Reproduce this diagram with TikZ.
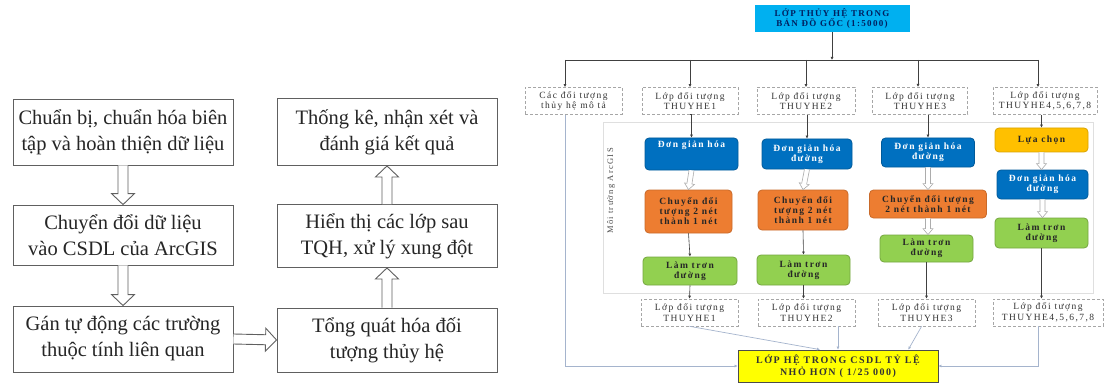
\documentclass[tikz,border=0pt]{standalone}
\usepackage{fontspec}
\setmainfont{Liberation Serif}
\newfontfamily\smf[LetterSpace=15]{Liberation Serif}
\usetikzlibrary{calc,arrows.meta}
\definecolor{cBlue}{RGB}{0,112,192}
\definecolor{cCyan}{RGB}{0,176,240}
\definecolor{cNavy}{RGB}{0,32,96}
\definecolor{cOrange}{RGB}{237,125,49}
\definecolor{cGreen}{RGB}{146,208,80}
\definecolor{cGold}{RGB}{255,192,0}
\definecolor{cYellow}{RGB}{255,255,0}
\definecolor{cFaint}{RGB}{165,180,205}
\newcommand{\blkarrow}[6]{%
  \coordinate (hb) at ($(#3)!#6!(#2)$);
  \draw[#1] ($(#2)!#4!90:(#3)$) -- ($(hb)!#4!90:(#3)$) -- ($(hb)!#5!90:(#3)$) -- (#3)
    -- ($(hb)!#5!-90:(#3)$) -- ($(hb)!#4!-90:(#3)$) -- ($(#2)!#4!-90:(#3)$);}
\tikzset{
  bigbox/.style={draw=gray!75!black, line width=0.9pt, minimum width=220pt, align=center,
    font=\fontsize{20.5}{26}\selectfont, inner sep=0pt, text=black!85},
  bighollow/.style={draw=gray!75!black, line width=0.9pt, fill=white},
  smallhollow/.style={draw=gray!65, line width=0.6pt, fill=white},
  small/.style={draw=gray!70, densely dashed, line width=0.6pt, minimum height=27pt, align=center,
    font=\smf\fontsize{9.5}{10.5}\selectfont, text=black!80, inner sep=0pt},
  proc/.style={rounded corners=4pt, align=center, font=\smf\bfseries\fontsize{9.5}{10}\selectfont,
    inner sep=0pt, line width=0.8pt},
  blu/.style={proc, fill=cBlue, draw=cBlue!80!black, text=white},
  ora/.style={proc, fill=cOrange, draw=cOrange!85!black, text=black!85},
  grn/.style={proc, fill=cGreen, draw=cGreen!80!black, text=black!85},
  ylw/.style={proc, fill=cGold, draw=cGold!85!black, text=black!85},
  link/.style={draw=black!75, line width=0.6pt, -{Latex[length=3pt,width=3pt]}},
  faint/.style={draw=cFaint, line width=0.7pt, -{Latex[length=3pt,width=3pt]}},
}
\begin{document}
\begin{tikzpicture}[x=1pt,y=-1pt]
\useasboundingbox (0,0) rectangle (1111,385);
\fill[white] (0,0) rectangle (1111,385);
% ---------- left flow ----------
\node[bigbox, minimum height=66pt] (A) at (123,132) {Chuẩn bị, chuẩn hóa biên\\tập và hoàn thiện dữ liệu};
\node[bigbox, minimum height=60pt] (B) at (123,235) {Chuyển đổi dữ liệu\\vào CSDL của ArcGIS};
\node[bigbox, minimum height=66pt] (C) at (123,339) {Gán tự động các trường\\thuộc tính liên quan};
\node[bigbox, minimum height=64pt] (D) at (387,340) {Tổng quát hóa đối\\tượng thủy hệ};
\node[bigbox, minimum height=63pt] (E) at (387,236) {Hiển thị các lớp sau\\TQH, xử lý xung đột};
\node[bigbox, minimum height=67pt] (F) at (387,132) {Thống kê, nhận xét và\\đánh giá kết quả};
\blkarrow{bighollow}{A.south}{B.north}{5pt}{11.5pt}{11pt}
\blkarrow{bighollow}{B.south}{C.north}{5pt}{11.5pt}{11pt}
\blkarrow{bighollow}{C.east}{D.west}{5pt}{11.5pt}{11pt}
\blkarrow{bighollow}{D.north}{E.south}{5pt}{11.5pt}{11pt}
\blkarrow{bighollow}{E.north}{F.south}{5pt}{11.5pt}{11pt}
% ---------- right flow ----------
\node[fill=cCyan, minimum width=155pt, minimum height=27pt, align=center, inner sep=0pt,
  font=\smf\bfseries\fontsize{9}{10.5}\selectfont, text=cNavy] (top) at (832,18.5)
  {LỚP THỦY HỆ TRONG\\BẢN ĐỒ GỐC (1:5000)};
\node[draw=gray!25, line width=0.8pt, minimum width=490pt, minimum height=171pt, inner sep=0pt] (env) at (848,207.5) {};
\node[rotate=90, font=\smf\fontsize{8.5}{9}\selectfont, text=black!70] (envlab) at (611,191) {Môi trường ArcGIS};
\node[small, minimum width=97pt] (L0) at (573.5,101) {Các đối tượng\\thủy hệ mô tả};
\node[small, minimum width=96pt] (L1) at (690,101) {Lớp đối tượng\\THUYHE1};
\node[small, minimum width=98pt] (L2) at (806,101) {Lớp đối tượng\\THUYHE2};
\node[small, minimum width=95pt] (L3) at (920,101) {Lớp đối tượng\\THUYHE3};
\node[small, minimum width=104pt] (L4) at (1045,101) {Lớp đối tượng\\THUYHE4,5,6,7,8};
\coordinate (j) at (832,60);
\coordinate (b0) at (565,60);
\coordinate (b4) at (1038,60);
\draw[link] (top.south) -- (j);
\draw[draw=black!75, line width=0.6pt] (b0) -- (b4);
\draw[link] (b0) -- (b0 |- L0.north);
\draw[link] (L1.north |- j) -- (L1.north);
\draw[link] (L2.north |- j) -- (L2.north);
\draw[link] (918,60) -- (918,87);
\draw[link] (b4) -- (b4 |- L4.north);
% columns
\node[blu, minimum width=93pt, minimum height=32pt] (c1b) at (691.5,154) {Đơn giản hóa\\[9pt]};
\node[ora, minimum width=87pt, minimum height=43pt] (c1o) at (688.5,211.5) {Chuyển đổi\\tượng 2 nét\\thành 1 nét};
\node[grn, minimum width=94pt, minimum height=28pt] (c1g) at (690,271) {Làm trơn\\đường};
\node[blu, minimum width=90pt, minimum height=30pt] (c2b) at (807,154) {Đơn giản hóa\\đường};
\node[ora, minimum width=90pt, minimum height=40pt] (c2o) at (803,210) {Chuyển đổi\\tượng 2 nét\\thành 1 nét};
\node[grn, minimum width=93pt, minimum height=30pt] (c2g) at (803.5,270) {Làm trơn\\đường};
\node[blu, minimum width=93pt, minimum height=29pt] (c3b) at (928,152.5) {Đơn giản hóa\\đường};
\node[ora, minimum width=117pt, minimum height=28pt] (c3o) at (928,204) {Chuyển đổi tượng\\2 nét thành 1 nét};
\node[grn, minimum width=93pt, minimum height=27pt] (c3g) at (926.5,248.5) {Làm trơn\\đường};
\node[ylw, minimum width=93pt, minimum height=24pt] (c4y) at (1041.5,140) {Lựa chọn};
\node[blu, minimum width=91pt, minimum height=29pt] (c4b) at (1042.5,184.5) {Đơn giản hóa\\đường};
\node[grn, minimum width=93pt, minimum height=30pt] (c4g) at (1041.5,233) {Làm trơn\\đường};
\node[small, minimum width=97pt] (B1) at (689.5,312.5) {Lớp đối tượng\\THUYHE1};
\node[small, minimum width=97pt] (B2) at (806.5,312.5) {Lớp đối tượng\\THUYHE2};
\node[small, minimum width=97pt] (B3) at (926.5,312.5) {Lớp đối tượng\\THUYHE3};
\node[small, minimum width=110pt] (B4) at (1048,312.5) {Lớp đối tượng\\THUYHE4,5,6,7,8};
\node[fill=cYellow, draw=gray!60!black, line width=0.8pt, minimum width=200pt, minimum height=32pt,
  align=center, inner sep=0pt, font=\smf\bfseries\fontsize{10}{11.5}\selectfont, text=black!80] (fin) at (838,366)
  {LỚP HỆ TRONG CSDL TỶ LỆ\\NHỎ HƠN ( 1/25 000)};
% column links
\draw[link] (L1.south) -- (L1.south -| c1b.north) -- (c1b.north);
\blkarrow{smallhollow}{c1b.south}{c1o.north}{2.5pt}{5pt}{6pt}
\draw[link] (c1o.south) -- (c1g.north);
\draw[link] (c1g.south) -- (B1.north);
\draw[link] (c2b.north |- L2.south) -- (c2b.north);
\blkarrow{smallhollow}{c2b.south}{c2o.north}{2.5pt}{5pt}{6pt}
\draw[link] (c2o.south) -- (c2g.north);
\draw[link] (c2g.south) -- (c2g.south |- B2.north);
\draw[link] (c3b.north |- L3.south) -- (c3b.north);
\blkarrow{smallhollow}{c3b.south}{c3o.north}{2.5pt}{5pt}{6pt}
\blkarrow{smallhollow}{c3o.south}{c3o.south |- c3g.north}{2.5pt}{5pt}{6pt}
\draw[link] (c3g.south) -- (c3g.south |- B3.north);
\draw[link] (c4y.north |- L4.south) -- (c4y.north);
\blkarrow{smallhollow}{c4y.south}{c4y.south |- c4b.north}{2.5pt}{5pt}{6pt}
\blkarrow{smallhollow}{c4b.south}{c4b.south |- c4g.north}{2.5pt}{5pt}{6pt}
\draw[link] (c4g.south) -- (c4g.south |- B4.north);
% links to final layer
\draw[faint] (L0.south -| b0) -- (b0 |- fin.west) -- (fin.west);
\draw[faint] (B1.south) -- ($(fin.north west)!0.41!(fin.north east)$);
\draw[faint] (B2.south -| fin.north) -- (fin.north);
\draw[faint] ($(B3.south west)!0.45!(B3.south east)$) -- ($(fin.north west)!0.85!(fin.north east)$);
\draw[faint] (B4.south -| b4) -- (b4 |- fin.east) -- (fin.east);
\end{tikzpicture}
\end{document}
